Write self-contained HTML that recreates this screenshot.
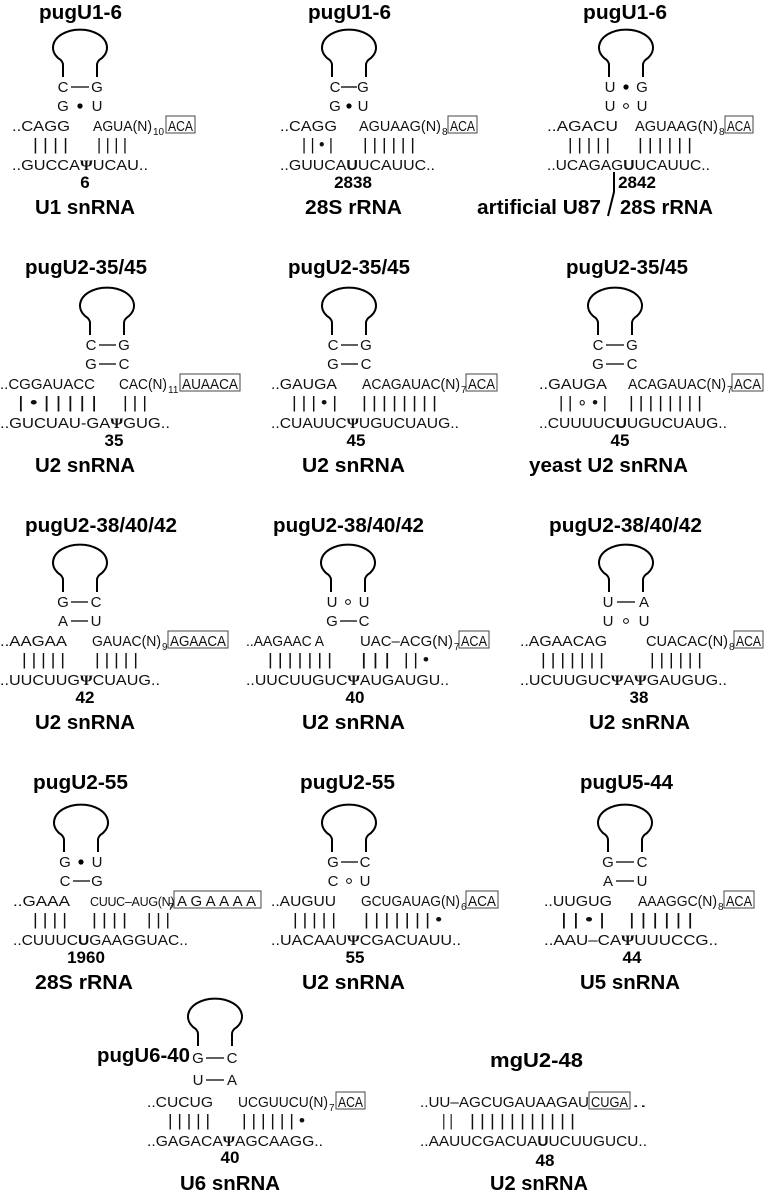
<!DOCTYPE html>
<html><head><meta charset="utf-8"><style>
html,body{margin:0;padding:0;background:#fff;}
svg{display:block;}
.s{font-family:"Liberation Sans",sans-serif;font-size:15px;fill:#111;}
.b{font-family:"Liberation Sans",sans-serif;font-size:17px;fill:#111;}
.t{font-family:"Liberation Sans",sans-serif;font-size:20px;font-weight:bold;fill:#000;}
.n{font-family:"Liberation Sans",sans-serif;font-size:17px;font-weight:bold;fill:#000;text-anchor:middle;}
.p{font-family:"Liberation Sans",sans-serif;font-size:15px;fill:#111;text-anchor:middle;}
.psi{font-family:"Liberation Serif",serif;font-weight:bold;}
.sub{font-family:"Liberation Sans",sans-serif;font-size:10px;fill:#111;}
.loop{fill:none;stroke:#000;stroke-width:2;}
.ln{stroke:#000;stroke-width:1.3;}
.bx{fill:none;stroke:#444;stroke-width:1;}
</style></head><body>
<svg width="765" height="1193" viewBox="0 0 765 1193" xmlns="http://www.w3.org/2000/svg" xml:space="preserve">
<defs>
<path id="lp" class="loop" d="M-17 0 V-12 Q-17 -16 -22 -19 A27 18 0 1 1 22 -19 Q17 -16 17 -12 V0"/>
</defs>

<!-- ================= ROW 1 ================= -->
<text class="t" x="39" y="19" textLength="83" lengthAdjust="spacingAndGlyphs">pugU1-6</text>
<use href="#lp" x="80" y="77"/>
<text class="p" x="63" y="92">C</text><line class="ln" x1="71" y1="87" x2="89" y2="87"/><text class="p" x="97" y="92">G</text>
<text class="p" x="63" y="111">G</text><circle cx="80" cy="106" r="2.6"/><text class="p" x="97" y="111">U</text>
<text class="s" x="12" y="131" textLength="58" lengthAdjust="spacingAndGlyphs">..CAGG</text>
<text class="s" x="93" y="131" textLength="59" lengthAdjust="spacingAndGlyphs">AGUA(N)</text><text class="sub" x="153" y="135">10</text>
<rect class="bx" x="166" y="116" width="29" height="17"/><text class="s" x="168" y="131" textLength="25" lengthAdjust="spacingAndGlyphs">ACA</text>
<text class="b" x="33" y="150" textLength="35" lengthAdjust="spacingAndGlyphs">| | | |</text>
<text class="b" x="97" y="150" textLength="30" lengthAdjust="spacingAndGlyphs">| | | |</text>
<text class="s" x="12" y="170" textLength="136" lengthAdjust="spacingAndGlyphs">..GUCCA<tspan class="psi">Ψ</tspan>UCAU..</text>
<text class="n" x="85" y="188">6</text>
<text class="t" x="35" y="214" textLength="100" lengthAdjust="spacingAndGlyphs">U1 snRNA</text>

<text class="t" x="308" y="19" textLength="83" lengthAdjust="spacingAndGlyphs">pugU1-6</text>
<use href="#lp" x="349" y="77"/>
<text class="p" x="335" y="92">C</text><line class="ln" x1="341" y1="87" x2="357" y2="87"/><text class="p" x="363" y="92">G</text>
<text class="p" x="335" y="111">G</text><circle cx="349" cy="106" r="2.6"/><text class="p" x="363" y="111">U</text>
<text class="s" x="280" y="131" textLength="57" lengthAdjust="spacingAndGlyphs">..CAGG</text>
<text class="s" x="359" y="131" textLength="82" lengthAdjust="spacingAndGlyphs">AGUAAG(N)</text><text class="sub" x="442" y="135">8</text>
<rect class="bx" x="448" y="116" width="29" height="17"/><text class="s" x="450" y="131" textLength="25" lengthAdjust="spacingAndGlyphs">ACA</text>
<text class="b" x="302" y="150" textLength="31" lengthAdjust="spacingAndGlyphs">| | • |</text>
<text class="b" x="363" y="150" textLength="52" lengthAdjust="spacingAndGlyphs">| | | | | |</text>
<text class="s" x="280" y="170" textLength="155" lengthAdjust="spacingAndGlyphs">..GUUCA<tspan font-weight="bold">U</tspan>UCAUUC..</text>
<text class="n" x="353" y="188">2838</text>
<text class="t" x="305" y="214" textLength="97" lengthAdjust="spacingAndGlyphs">28S rRNA</text>

<text class="t" x="583" y="19" textLength="84" lengthAdjust="spacingAndGlyphs">pugU1-6</text>
<use href="#lp" x="626" y="77"/>
<text class="p" x="610" y="92">U</text><circle cx="626" cy="87" r="2.6"/><text class="p" x="642" y="92">G</text>
<text class="p" x="610" y="111">U</text><circle cx="626" cy="106" r="2.4" fill="none" stroke="#000" stroke-width="1"/><text class="p" x="642" y="111">U</text>
<text class="s" x="547" y="131" textLength="71" lengthAdjust="spacingAndGlyphs">..AGACU</text>
<text class="s" x="635" y="131" textLength="83" lengthAdjust="spacingAndGlyphs">AGUAAG(N)</text><text class="sub" x="719" y="135">8</text>
<rect class="bx" x="725" y="116" width="28" height="17"/><text class="s" x="727" y="131" textLength="24" lengthAdjust="spacingAndGlyphs">ACA</text>
<text class="b" x="568" y="150" textLength="42" lengthAdjust="spacingAndGlyphs">| | | | |</text>
<text class="b" x="638" y="150" textLength="54" lengthAdjust="spacingAndGlyphs">| | | | | |</text>
<text class="s" x="547" y="170" textLength="163" lengthAdjust="spacingAndGlyphs">..UCAGAG<tspan font-weight="bold">U</tspan>UCAUUC..</text>
<polyline points="614,172 614,192 608,216" fill="none" stroke="#000" stroke-width="2"/>
<text class="n" x="637" y="188">2842</text>
<text class="t" x="477" y="214" textLength="124" lengthAdjust="spacingAndGlyphs">artificial U87</text>
<text class="t" x="620" y="214" textLength="93" lengthAdjust="spacingAndGlyphs">28S rRNA</text>

<!-- ================= ROW 2 ================= -->
<text class="t" x="25" y="274" textLength="122" lengthAdjust="spacingAndGlyphs">pugU2-35/45</text>
<use href="#lp" x="107" y="335"/>
<text class="p" x="91" y="350">C</text><line class="ln" x1="99" y1="345" x2="116" y2="345"/><text class="p" x="124" y="350">G</text>
<text class="p" x="91" y="369">G</text><line class="ln" x1="99" y1="364" x2="116" y2="364"/><text class="p" x="124" y="369">C</text>
<text class="s" x="0" y="389" textLength="95" lengthAdjust="spacingAndGlyphs">..CGGAUACC</text>
<text class="s" x="119" y="389" textLength="48" lengthAdjust="spacingAndGlyphs">CAC(N)</text><text class="sub" x="168" y="393">11</text>
<rect class="bx" x="180" y="374" width="60" height="17"/><text class="s" x="182" y="389" textLength="56" lengthAdjust="spacingAndGlyphs">AUAACA</text>
<text class="b" x="18" y="408" textLength="79" lengthAdjust="spacingAndGlyphs">| • | | | |    |</text>
<text class="b" x="123" y="408" textLength="24" lengthAdjust="spacingAndGlyphs">| | |</text>
<text class="s" x="0" y="428" textLength="170" lengthAdjust="spacingAndGlyphs">..GUCUAU-GA<tspan class="psi">Ψ</tspan>GUG..</text>
<text class="n" x="114" y="446">35</text>
<text class="t" x="35" y="472" textLength="100" lengthAdjust="spacingAndGlyphs">U2 snRNA</text>

<text class="t" x="288" y="274" textLength="122" lengthAdjust="spacingAndGlyphs">pugU2-35/45</text>
<use href="#lp" x="349" y="335"/>
<text class="p" x="333" y="350">C</text><line class="ln" x1="341" y1="345" x2="358" y2="345"/><text class="p" x="366" y="350">G</text>
<text class="p" x="333" y="369">G</text><line class="ln" x1="341" y1="364" x2="358" y2="364"/><text class="p" x="366" y="369">C</text>
<text class="s" x="271" y="389" textLength="66" lengthAdjust="spacingAndGlyphs">..GAUGA</text>
<text class="s" x="362" y="389" textLength="98" lengthAdjust="spacingAndGlyphs">ACAGAUAC(N)</text><text class="sub" x="461" y="393">7</text>
<rect class="bx" x="466" y="374" width="31" height="17"/><text class="s" x="468" y="389" textLength="27" lengthAdjust="spacingAndGlyphs">ACA</text>
<text class="b" x="292" y="408" textLength="45" lengthAdjust="spacingAndGlyphs">| | | • |</text>
<text class="b" x="362" y="408" textLength="75" lengthAdjust="spacingAndGlyphs">| | | | | | | |</text>
<text class="s" x="271" y="428" textLength="188" lengthAdjust="spacingAndGlyphs">..CUAUUC<tspan class="psi">Ψ</tspan>UGUCUAUG..</text>
<text class="n" x="356" y="446">45</text>
<text class="t" x="302" y="472" textLength="103" lengthAdjust="spacingAndGlyphs">U2 snRNA</text>

<text class="t" x="566" y="274" textLength="122" lengthAdjust="spacingAndGlyphs">pugU2-35/45</text>
<use href="#lp" x="615" y="335"/>
<text class="p" x="598" y="350">C</text><line class="ln" x1="606" y1="345" x2="624" y2="345"/><text class="p" x="632" y="350">G</text>
<text class="p" x="598" y="369">G</text><line class="ln" x1="606" y1="364" x2="624" y2="364"/><text class="p" x="632" y="369">C</text>
<text class="s" x="539" y="389" textLength="68" lengthAdjust="spacingAndGlyphs">..GAUGA</text>
<text class="s" x="628" y="389" textLength="98" lengthAdjust="spacingAndGlyphs">ACAGAUAC(N)</text><text class="sub" x="727" y="393">7</text>
<rect class="bx" x="732" y="374" width="31" height="17"/><text class="s" x="734" y="389" textLength="27" lengthAdjust="spacingAndGlyphs">ACA</text>
<text class="b" x="559" y="408" textLength="48" lengthAdjust="spacingAndGlyphs">| | ∘ • |</text>
<text class="b" x="629" y="408" textLength="73" lengthAdjust="spacingAndGlyphs">| | | | | | | |</text>
<text class="s" x="539" y="428" textLength="188" lengthAdjust="spacingAndGlyphs">..CUUUUC<tspan font-weight="bold">U</tspan>UGUCUAUG..</text>
<text class="n" x="620" y="446">45</text>
<text class="t" x="529" y="472" textLength="159" lengthAdjust="spacingAndGlyphs">yeast U2 snRNA</text>

<!-- ================= ROW 3 ================= -->
<text class="t" x="25" y="532" textLength="152" lengthAdjust="spacingAndGlyphs">pugU2-38/40/42</text>
<use href="#lp" x="80" y="592"/>
<text class="p" x="63" y="607">G</text><line class="ln" x1="71" y1="602" x2="88" y2="602"/><text class="p" x="96" y="607">C</text>
<text class="p" x="63" y="626">A</text><line class="ln" x1="71" y1="621" x2="88" y2="621"/><text class="p" x="96" y="626">U</text>
<text class="s" x="0" y="646" textLength="67" lengthAdjust="spacingAndGlyphs">..AAGAA</text>
<text class="s" x="92" y="646" textLength="69" lengthAdjust="spacingAndGlyphs">GAUAC(N)</text><text class="sub" x="162" y="650">9</text>
<rect class="bx" x="168" y="631" width="60" height="17"/><text class="s" x="170" y="646" textLength="56" lengthAdjust="spacingAndGlyphs">AGAACA</text>
<text class="b" x="22" y="665" textLength="43" lengthAdjust="spacingAndGlyphs">| | | | |</text>
<text class="b" x="95" y="665" textLength="43" lengthAdjust="spacingAndGlyphs">| | | | |</text>
<text class="s" x="0" y="685" textLength="160" lengthAdjust="spacingAndGlyphs">..UUCUUG<tspan class="psi">Ψ</tspan>CUAUG..</text>
<text class="n" x="85" y="703">42</text>
<text class="t" x="35" y="729" textLength="100" lengthAdjust="spacingAndGlyphs">U2 snRNA</text>

<text class="t" x="273" y="532" textLength="151" lengthAdjust="spacingAndGlyphs">pugU2-38/40/42</text>
<use href="#lp" x="348" y="592"/>
<text class="p" x="332" y="607">U</text><circle cx="348" cy="602" r="2.4" fill="none" stroke="#000" stroke-width="1"/><text class="p" x="364" y="607">U</text>
<text class="p" x="332" y="626">G</text><line class="ln" x1="340" y1="621" x2="357" y2="621"/><text class="p" x="364" y="626">C</text>
<text class="s" x="246" y="646" textLength="78" lengthAdjust="spacingAndGlyphs">..AAGAAC A</text>
<text class="s" x="360" y="646" textLength="93" lengthAdjust="spacingAndGlyphs">UAC–ACG(N)</text><text class="sub" x="454" y="650">7</text>
<rect class="bx" x="459" y="631" width="30" height="17"/><text class="s" x="461" y="646" textLength="26" lengthAdjust="spacingAndGlyphs">ACA</text>
<text class="b" x="268" y="665" textLength="64" lengthAdjust="spacingAndGlyphs">| | | | | | |</text>
<text class="b" x="361" y="665" textLength="29" lengthAdjust="spacingAndGlyphs">| | |</text>
<text class="b" x="404" y="665" textLength="25" lengthAdjust="spacingAndGlyphs">| | •</text>
<text class="s" x="246" y="685" textLength="203" lengthAdjust="spacingAndGlyphs">..UUCUUGUC<tspan class="psi">Ψ</tspan>AUGAUGU..</text>
<text class="n" x="355" y="703">40</text>
<text class="t" x="302" y="729" textLength="103" lengthAdjust="spacingAndGlyphs">U2 snRNA</text>

<text class="t" x="549" y="532" textLength="153" lengthAdjust="spacingAndGlyphs">pugU2-38/40/42</text>
<use href="#lp" x="626" y="592"/>
<text class="p" x="608" y="607">U</text><line class="ln" x1="617" y1="602" x2="635" y2="602"/><text class="p" x="644" y="607">A</text>
<text class="p" x="608" y="626">U</text><circle cx="626" cy="621" r="2.4" fill="none" stroke="#000" stroke-width="1"/><text class="p" x="644" y="626">U</text>
<text class="s" x="520" y="646" textLength="87" lengthAdjust="spacingAndGlyphs">..AGAACAG</text>
<text class="s" x="646" y="646" textLength="82" lengthAdjust="spacingAndGlyphs">CUACAC(N)</text><text class="sub" x="729" y="650">8</text>
<rect class="bx" x="734" y="631" width="29" height="17"/><text class="s" x="736" y="646" textLength="25" lengthAdjust="spacingAndGlyphs">ACA</text>
<text class="b" x="541" y="665" textLength="63" lengthAdjust="spacingAndGlyphs">| | | | | | |</text>
<text class="b" x="650" y="665" textLength="52" lengthAdjust="spacingAndGlyphs">| | | | | |</text>
<text class="s" x="520" y="685" textLength="207" lengthAdjust="spacingAndGlyphs">..UCUUGUC<tspan class="psi">Ψ</tspan>A<tspan class="psi">Ψ</tspan>GAUGUG..</text>
<text class="n" x="639" y="703">38</text>
<text class="t" x="589" y="729" textLength="101" lengthAdjust="spacingAndGlyphs">U2 snRNA</text>

<!-- ================= ROW 4 ================= -->
<text class="t" x="33" y="789" textLength="95" lengthAdjust="spacingAndGlyphs">pugU2-55</text>
<use href="#lp" x="81" y="852"/>
<text class="p" x="65" y="867">G</text><circle cx="81" cy="862" r="2.6"/><text class="p" x="97" y="867">U</text>
<text class="p" x="65" y="886">C</text><line class="ln" x1="73" y1="881" x2="90" y2="881"/><text class="p" x="97" y="886">G</text>
<text class="s" x="13" y="906" textLength="57" lengthAdjust="spacingAndGlyphs">..GAAA</text>
<text class="s" x="90" y="906" style="font-size:12.5px;letter-spacing:-0.3px">CUUC–AUG(N)</text><text class="sub" x="168" y="910">7</text>
<rect class="bx" x="174" y="891" width="87" height="17"/><text class="s" x="177" y="906" style="letter-spacing:3.5px">AGAAAA</text>
<text class="b" x="33" y="925" textLength="34" lengthAdjust="spacingAndGlyphs">| | | |</text>
<text class="b" x="92" y="925" textLength="35" lengthAdjust="spacingAndGlyphs">| | | |</text>
<text class="b" x="147" y="925" textLength="23" lengthAdjust="spacingAndGlyphs">| | |</text>
<text class="s" x="13" y="945" textLength="175" lengthAdjust="spacingAndGlyphs">..CUUUC<tspan font-weight="bold">U</tspan>GAAGGUAC..</text>
<text class="n" x="86" y="963">1960</text>
<text class="t" x="35" y="989" textLength="98" lengthAdjust="spacingAndGlyphs">28S rRNA</text>

<text class="t" x="300" y="789" textLength="95" lengthAdjust="spacingAndGlyphs">pugU2-55</text>
<use href="#lp" x="349" y="852"/>
<text class="p" x="333" y="867">G</text><line class="ln" x1="341" y1="862" x2="358" y2="862"/><text class="p" x="365" y="867">C</text>
<text class="p" x="333" y="886">C</text><circle cx="349" cy="881" r="2.4" fill="none" stroke="#000" stroke-width="1"/><text class="p" x="365" y="886">U</text>
<text class="s" x="271" y="906" textLength="65" lengthAdjust="spacingAndGlyphs">..AUGUU</text>
<text class="s" x="361" y="906" textLength="99" lengthAdjust="spacingAndGlyphs">GCUGAUAG(N)</text><text class="sub" x="461" y="910">6</text>
<rect class="bx" x="466" y="891" width="32" height="17"/><text class="s" x="468" y="906" textLength="28" lengthAdjust="spacingAndGlyphs">ACA</text>
<text class="b" x="293" y="925" textLength="43" lengthAdjust="spacingAndGlyphs">| | | | |</text>
<text class="b" x="364" y="925" textLength="78" lengthAdjust="spacingAndGlyphs">| | | | | | | •</text>
<text class="s" x="271" y="945" textLength="190" lengthAdjust="spacingAndGlyphs">..UACAAU<tspan class="psi">Ψ</tspan>CGACUAUU..</text>
<text class="n" x="355" y="963">55</text>
<text class="t" x="302" y="989" textLength="103" lengthAdjust="spacingAndGlyphs">U2 snRNA</text>

<text class="t" x="580" y="789" textLength="93" lengthAdjust="spacingAndGlyphs">pugU5-44</text>
<use href="#lp" x="625" y="852"/>
<text class="p" x="608" y="867">G</text><line class="ln" x1="616" y1="862" x2="634" y2="862"/><text class="p" x="642" y="867">C</text>
<text class="p" x="608" y="886">A</text><line class="ln" x1="616" y1="881" x2="634" y2="881"/><text class="p" x="642" y="886">U</text>
<text class="s" x="544" y="906" textLength="68" lengthAdjust="spacingAndGlyphs">..UUGUG</text>
<text class="s" x="638" y="906" textLength="79" lengthAdjust="spacingAndGlyphs">AAAGGC(N)</text><text class="sub" x="718" y="910">8</text>
<rect class="bx" x="724" y="891" width="30" height="17"/><text class="s" x="726" y="906" textLength="26" lengthAdjust="spacingAndGlyphs">ACA</text>
<text class="b" x="561" y="925" textLength="44" lengthAdjust="spacingAndGlyphs">| | •   |</text>
<text class="b" x="629" y="925" textLength="64" lengthAdjust="spacingAndGlyphs">| | | | | |</text>
<text class="s" x="544" y="945" textLength="174" lengthAdjust="spacingAndGlyphs">..AAU–CA<tspan class="psi">Ψ</tspan>UUUCCG..</text>
<text class="n" x="632" y="963">44</text>
<text class="t" x="580" y="989" textLength="100" lengthAdjust="spacingAndGlyphs">U5 snRNA</text>

<!-- ================= ROW 5 ================= -->
<text class="t" x="97" y="1062" textLength="93" lengthAdjust="spacingAndGlyphs">pugU6-40</text>
<use href="#lp" x="215" y="1046"/>
<text class="p" x="198" y="1063">G</text><line class="ln" x1="206" y1="1058" x2="224" y2="1058"/><text class="p" x="232" y="1063">C</text>
<text class="p" x="198" y="1085">U</text><line class="ln" x1="206" y1="1080" x2="224" y2="1080"/><text class="p" x="232" y="1085">A</text>
<text class="s" x="147" y="1107" textLength="66" lengthAdjust="spacingAndGlyphs">..CUCUG</text>
<text class="s" x="238" y="1107" textLength="90" lengthAdjust="spacingAndGlyphs">UCGUUCU(N)</text><text class="sub" x="329" y="1111">7</text>
<rect class="bx" x="336" y="1092" width="29" height="17"/><text class="s" x="338" y="1107" textLength="25" lengthAdjust="spacingAndGlyphs">ACA</text>
<text class="b" x="168" y="1126" textLength="42" lengthAdjust="spacingAndGlyphs">| | | | |</text>
<text class="b" x="242" y="1126" textLength="63" lengthAdjust="spacingAndGlyphs">| | | | | | •</text>
<text class="s" x="147" y="1146" textLength="176" lengthAdjust="spacingAndGlyphs">..GAGACA<tspan class="psi">Ψ</tspan>AGCAAGG..</text>
<text class="n" x="230" y="1163">40</text>
<text class="t" x="180" y="1190" textLength="100" lengthAdjust="spacingAndGlyphs">U6 snRNA</text>

<text class="t" x="490" y="1067" textLength="93" lengthAdjust="spacingAndGlyphs">mgU2-48</text>
<text class="s" x="420" y="1107" textLength="169" lengthAdjust="spacingAndGlyphs">..UU–AGCUGAUAAGAU</text>
<rect class="bx" x="589" y="1092" width="41" height="17"/><text class="s" x="591" y="1107" textLength="37" lengthAdjust="spacingAndGlyphs">CUGA</text>
<text class="s" x="632" y="1107" textLength="15" lengthAdjust="spacingAndGlyphs">..</text>
<text class="b" x="442" y="1126" textLength="11" lengthAdjust="spacingAndGlyphs">| |</text>
<text class="b" x="470" y="1126" textLength="105" lengthAdjust="spacingAndGlyphs">| | | | | | | | | | |</text>
<text class="s" x="420" y="1146" textLength="227" lengthAdjust="spacingAndGlyphs">..AAUUCGACUA<tspan font-weight="bold">U</tspan>UCUUGUCU..</text>
<text class="n" x="545" y="1166">48</text>
<text class="t" x="490" y="1190" textLength="98" lengthAdjust="spacingAndGlyphs">U2 snRNA</text>
</svg>
</body></html>
